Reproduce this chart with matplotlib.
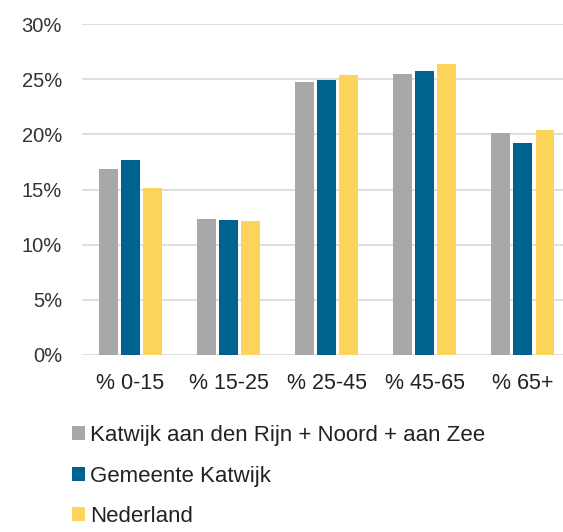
import matplotlib.pyplot as plt
import numpy as np

plt.rcParams['font.family'] = ['Liberation Sans', 'DejaVu Sans']

categories = ['% 0-15', '% 15-25', '% 25-45', '% 45-65', '% 65+']
series_names = ['Katwijk aan den Rijn + Noord + aan Zee', 'Gemeente Katwijk', 'Nederland']
katwijk_kernen = [16.9, 12.3, 24.7, 25.5, 20.1]
gemeente_katwijk = [17.7, 12.2, 24.9, 25.7, 19.2]
nederland = [15.1, 12.1, 25.4, 26.4, 20.4]
colors = ['#a8a8aa', '#00628f', '#fcd45a']

fig = plt.figure(figsize=(5.63, 5.32), dpi=100)
ax = fig.add_axes([81.5 / 563, 1 - 355 / 532, 1 - 81.5 / 563, (355 - 24) / 532])

x = np.arange(len(categories))
w = 0.19
step = 0.225
for i, (vals, name, c) in enumerate(zip([katwijk_kernen, gemeente_katwijk, nederland], series_names, colors)):
    ax.bar(x + (i - 1) * step, vals, width=w, color=c, label=name, zorder=3)

ax.set_xlim(-0.5, 4.41)
ax.set_ylim(0, 30)
ax.set_yticks(range(0, 31, 5))
ax.set_yticklabels([f'{t}%' for t in range(0, 31, 5)], fontsize=14.5, color='#333333')
ax.set_xticks(x)
ax.set_xticklabels(categories, fontsize=15.5, color='#222222')
ax.grid(axis='y', color='#d9d9d9', linewidth=1.2, zorder=0)
for s in ax.spines.values():
    s.set_visible(False)
ax.tick_params(axis='both', length=0)
ax.tick_params(axis='y', pad=14)
ax.tick_params(axis='x', pad=13)

fig.legend(loc='upper left', bbox_to_anchor=(72 / 563, 1 - 425 / 532), frameon=False,
           fontsize=16, handlelength=0.6, handleheight=0.6, handletextpad=0.2,
           labelspacing=0.88, borderaxespad=0, borderpad=0, labelcolor='#222222')

fig.savefig('out.png', dpi=100)
